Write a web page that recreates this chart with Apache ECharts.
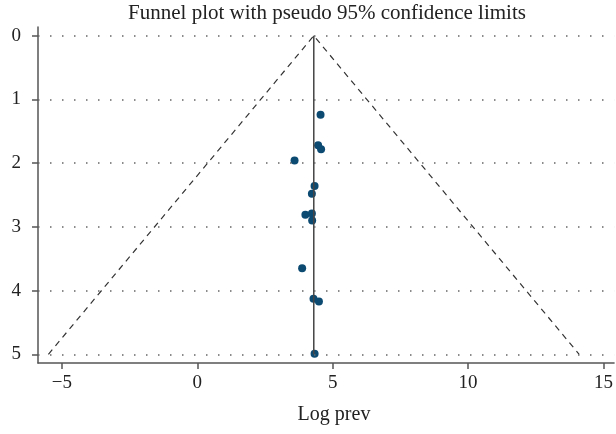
<!DOCTYPE html>
<html>
<head>
<meta charset="utf-8">
<script src="https://cdn.jsdelivr.net/npm/echarts@6/dist/echarts.min.js"></script>
<style>
    html, body { margin: 0; padding: 0; background: #fff; }
    #chart { width: 616px; height: 434px; }
</style>
</head>
<body>
<div id="chart"></div>
<script>
// study points: log prevalence (x) and standard error (y)
var logPrev = [4.55, 4.46, 4.57, 3.59, 4.33, 4.23, 3.99, 4.23, 4.24, 3.87, 4.29, 4.49, 4.33];
var stdErr  = [1.24, 1.72, 1.78, 1.96, 2.36, 2.48, 2.81, 2.79, 2.90, 3.65, 4.13, 4.17, 4.99];

// pooled estimate line and pseudo 95% limits
var pooledX = [4.3, 4.3];
var pooledY = [0, 5];
var funnelX = [-5.5, 4.3, 14.1];
var funnelY = [5, 0, 5];

var xTicks = [-5, 0, 5, 10, 15];
var yTicks = [0, 1, 2, 3, 4, 5];

var serif = 'Liberation Serif';
var axisColor = '#555';
var textColor = '#222';

function pairs(xs, ys) {
    return xs.map(function (x, i) { return [x, ys[i]]; });
}

var myChart = echarts.init(document.getElementById('chart'));

var option = {
    animation: false,
    grid: { left: 38, top: 27, right: 0, bottom: 71 },
    graphic: [
        {
            type: 'text',
            x: 327,
            y: 3,
            style: {
                text: 'Funnel plot with pseudo 95% confidence limits',
                font: '21px "' + serif + '"',
                fill: textColor,
                align: 'center'
            }
        },
        {
            type: 'text',
            x: 334,
            y: 405,
            style: {
                text: 'Log prev',
                font: '20px "' + serif + '"',
                fill: textColor,
                align: 'center'
            }
        }
    ],
    xAxis: {
        type: 'value',
        min: -5.885,
        max: 15.39,
        axisLine: { show: true, onZero: false, lineStyle: { color: axisColor, width: 1.5 } },
        axisTick: { show: true, length: 6, customValues: xTicks, lineStyle: { color: axisColor, width: 1.5 } },
        axisLabel: {
            customValues: xTicks,
            margin: 11,
            fontFamily: serif, fontSize: 19, color: textColor,
            formatter: function (v) { return v < 0 ? '\u2212' + Math.abs(v) : String(v); }
        },
        splitLine: { show: false }
    },
    yAxis: {
        type: 'value',
        inverse: true,
        min: -0.137,
        max: 5.137,
        axisLine: { show: true, onZero: false, lineStyle: { color: axisColor, width: 1.5 } },
        axisTick: { show: true, length: 6, customValues: yTicks, lineStyle: { color: axisColor, width: 1.5 } },
        axisLabel: {
            customValues: yTicks,
            margin: 17,
            fontFamily: serif, fontSize: 19, color: textColor
        },
        splitLine: { show: false }
    },
    series: [
        {
            // dotted horizontal guides at each y tick
            type: 'line',
            silent: true,
            data: [],
            markLine: {
                symbol: 'none',
                silent: true,
                label: { show: false },
                lineStyle: { color: '#666', type: [1.5, 10.5], width: 1.5 },
                data: yTicks.map(function (t) { return { yAxis: t }; })
            }
        },
        {
            type: 'line',
            data: pairs(funnelX, funnelY),
            symbol: 'none',
            lineStyle: { color: '#333', width: 1.2, type: [6, 5] }
        },
        {
            type: 'line',
            data: pairs(pooledX, pooledY),
            symbol: 'none',
            lineStyle: { color: '#444', width: 1.5 }
        },
        {
            type: 'scatter',
            data: pairs(logPrev, stdErr),
            symbolSize: 8,
            itemStyle: { color: '#0c4a72', opacity: 1 }
        }
    ]
};

myChart.setOption(option);
</script>
</body>
</html>
